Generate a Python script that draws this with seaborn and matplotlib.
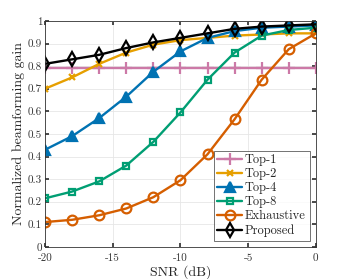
import matplotlib
matplotlib.use("Agg")
import matplotlib.pyplot as plt
import matplotlib.ticker as mticker
import seaborn as sns
import pandas as pd

snr = [-20, -18, -16, -14, -12, -10, -8, -6, -4, -2, 0]
top1 = [0.79] * 11
top2 = [0.70, 0.75, 0.81, 0.86, 0.895, 0.915, 0.925, 0.935, 0.94, 0.945, 0.945]
top4 = [0.43, 0.49, 0.57, 0.665, 0.775, 0.865, 0.925, 0.955, 0.97, 0.975, 0.98]
top8 = [0.215, 0.245, 0.29, 0.36, 0.465, 0.595, 0.74, 0.86, 0.935, 0.96, 0.97]
exhaustive = [0.11, 0.12, 0.14, 0.17, 0.22, 0.295, 0.41, 0.565, 0.74, 0.875, 0.945]
proposed = [0.81, 0.83, 0.85, 0.88, 0.905, 0.925, 0.945, 0.965, 0.975, 0.98, 0.985]

series = {
    "Top-1": top1,
    "Top-2": top2,
    "Top-4": top4,
    "Top-8": top8,
    "Exhaustive": exhaustive,
    "Proposed": proposed,
}
styles = {
    "Top-1": dict(color="#CC79A7", marker="+", ms=8, mfc="#CC79A7"),
    "Top-2": dict(color="#E69F00", marker="x", ms=5, mfc="#E69F00"),
    "Top-4": dict(color="#0072B2", marker="^", ms=7, mfc="#0072B2"),
    "Top-8": dict(color="#009E73", marker="s", ms=5, mfc="none"),
    "Exhaustive": dict(color="#D55E00", marker="o", ms=7, mfc="none"),
    "Proposed": dict(color="black", marker="d", ms=7.5, mfc="none"),
}

sns.set_theme(style="whitegrid")
plt.rcParams["font.family"] = ["cmr10", "DejaVu Serif"]
plt.rcParams["mathtext.fontset"] = "cm"
plt.rcParams["axes.formatter.use_mathtext"] = True
plt.rcParams["axes.unicode_minus"] = False

fig = plt.figure(figsize=(3.49, 2.79), dpi=100)
ax = fig.add_axes([0.129, 0.115, 0.776, 0.81])

for name, vals in series.items():
    st = styles[name]
    df = pd.DataFrame({"snr": snr, "gain": vals})
    sns.lineplot(data=df, x="snr", y="gain", ax=ax, label=name,
                 color=st["color"], marker=st["marker"], markersize=st["ms"],
                 markerfacecolor=st["mfc"], markeredgecolor=st["color"],
                 markeredgewidth=1.6, linewidth=1.7)

ax.set_xlim(-20, 0)
ax.set_ylim(0, 1)
ax.set_xticks([-20, -15, -10, -5, 0])
ax.set_yticks([i / 10 for i in range(11)])
ax.yaxis.set_major_formatter(mticker.FuncFormatter(lambda v, p: f"{v:g}"))
ax.xaxis.set_major_formatter(mticker.FuncFormatter(lambda v, p: f"{v:g}"))
ax.tick_params(direction="in", length=3, labelsize=8, top=True, right=True,
               bottom=True, left=True, colors="#333333")
ax.tick_params(axis="x", pad=5)
ax.tick_params(axis="y", pad=2)
ax.grid(True, color="#e6e6e6", linewidth=0.6)
for s in ax.spines.values():
    s.set_color("#333333")
    s.set_linewidth(0.6)

ax.set_xlabel("SNR (dB)", fontsize=10, labelpad=1)
ax.set_ylabel("Normalized beamforming gain", fontsize=10, labelpad=2)

leg = ax.legend(loc="lower right", fontsize=9, frameon=True, fancybox=False,
                edgecolor="#333333", handlelength=2.0, handletextpad=0.2,
                borderpad=0.3, labelspacing=0.15, borderaxespad=0.5)
leg.get_frame().set_linewidth(0.6)

fig.savefig("out.png", dpi=100)
